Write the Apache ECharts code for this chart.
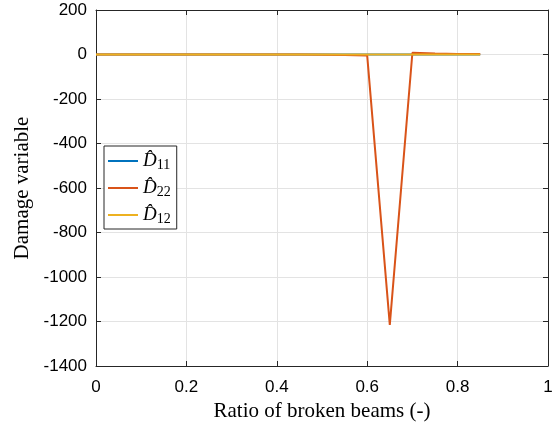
<!DOCTYPE html>
<html>
<head>
<meta charset="utf-8">
<script src="https://cdn.jsdelivr.net/npm/echarts@6/dist/echarts.min.js"></script>
<style>html,body{margin:0;padding:0;background:#fff;}#c{width:560px;height:423px;}</style>
</head>
<body>
<div id="c"></div>
<script>
const ratios = [0, 0.05, 0.1, 0.15, 0.2, 0.25, 0.3, 0.35, 0.4, 0.45, 0.5, 0.55, 0.6, 0.65, 0.7, 0.75, 0.8, 0.85];
const d11 = [0, 0, 0, 0, 0, 0, 0, 0, 0, 0, 0, 0, 0, 0, 0, 0, 0, 0];
const d22 = [0, 0, 0, 0, 0, 0, 0, 0, 0, 0, -1, -2, -5, -1215, 8, 4, 2, 2];
const d12 = [0, 0, 0, 0, 0, 0, 0, 0, 0, 0, 0, 0, 0, 0, 0, 0, 0, 0];
const seriesNames = ['D11', 'D22', 'D12'];
const legendSubs = {D11: '11', D22: '22', D12: '12'};
const xTicks = {min: 0, max: 1, interval: 0.2};
const yTicks = {min: -1400, max: 200, interval: 200};

const colors = ['#0072BD', '#D95319', '#EDB120'];
const pairs = arr => ratios.map((r, i) => [r, arr[i]]);
const chart = echarts.init(document.getElementById('c'), null, {renderer: 'canvas'});
const axisCol = '#262626';
const tick = {show: true, inside: true, length: 5, lineStyle: {color: axisCol}};
const line = {show: true, onZero: false, lineStyle: {color: axisCol}};
const split = {show: true, lineStyle: {color: '#e3e3e3', width: 1}};
chart.setOption({
  animation: false,
  grid: {left: 96, right: 12, top: 10, bottom: 57, show: false, containLabel: false, outerBoundsMode: 'none'},
  legend: {
    left: 104, top: 146, orient: 'vertical',
    backgroundColor: '#fff', borderColor: axisCol, borderWidth: 1, borderRadius: 0,
    padding: [4, 6, 3, 4], itemGap: 5, itemWidth: 30, itemHeight: 14,
    data: seriesNames.map(n => ({name: n, icon: 'path://M0,6H30V8H0Z'})),
    formatter: n => '{d|D\u0302}{s|' + legendSubs[n] + '}',
    textStyle: {
      rich: {
        d: {fontFamily: 'Liberation Serif', fontStyle: 'italic', fontSize: 19, color: '#000', lineHeight: 22},
        s: {fontFamily: 'Liberation Serif', fontSize: 14, color: '#000', padding: [8, 0, 0, 0], lineHeight: 22}
      }
    }
  },
  xAxis: [{
    type: 'value', min: xTicks.min, max: xTicks.max, interval: xTicks.interval, position: 'bottom',
    name: 'Ratio of broken beams (-)', nameLocation: 'middle', nameGap: 32,
    nameTextStyle: {fontFamily: 'Liberation Serif', fontSize: 21, color: '#000'},
    axisLine: line, axisTick: tick,
    axisLabel: {fontFamily: 'Liberation Sans', fontSize: 17, color: '#000', margin: 13, formatter: v => String(v)},
    splitLine: split
  }, {
    type: 'value', min: xTicks.min, max: xTicks.max, interval: xTicks.interval, position: 'top',
    axisLine: line, axisTick: tick, axisLabel: {show: false}, splitLine: {show: false}
  }],
  yAxis: [{
    type: 'value', min: yTicks.min, max: yTicks.max, interval: yTicks.interval, position: 'left',
    name: 'Damage variable', nameLocation: 'middle', nameGap: 63,
    nameTextStyle: {fontFamily: 'Liberation Serif', fontSize: 21, color: '#000'},
    axisLine: line, axisTick: tick,
    axisLabel: {fontFamily: 'Liberation Sans', fontSize: 17, color: '#000', margin: 9, padding: [4, 0, 0, 0], formatter: v => String(v)},
    splitLine: split
  }, {
    type: 'value', min: yTicks.min, max: yTicks.max, interval: yTicks.interval, position: 'right',
    axisLine: line, axisTick: tick, axisLabel: {show: false}, splitLine: {show: false}
  }],
  series: [
    {name: seriesNames[0], type: 'line', data: pairs(d11), showSymbol: false, symbol: 'none', lineStyle: {color: colors[0], width: 2}, itemStyle: {color: colors[0]}},
    {name: seriesNames[1], type: 'line', data: pairs(d22), showSymbol: false, symbol: 'none', lineStyle: {color: colors[1], width: 2}, itemStyle: {color: colors[1]}},
    {name: seriesNames[2], type: 'line', data: pairs(d12), showSymbol: false, symbol: 'none', lineStyle: {color: colors[2], width: 2}, itemStyle: {color: colors[2]}}
  ]
});
</script>
</body>
</html>
